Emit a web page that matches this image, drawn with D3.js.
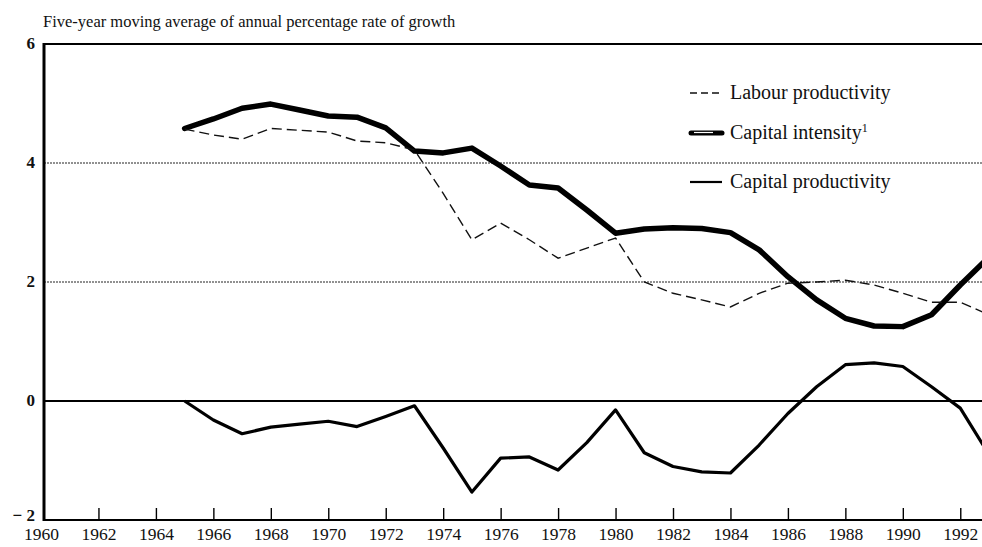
<!DOCTYPE html>
<html lang="en">
<head>
<meta charset="utf-8">
<title>Five-year moving average</title>
<script src="https://cdn.jsdelivr.net/npm/d3@7/dist/d3.min.js"></script>
<style>
  body { margin: 0; background: #fff; }
  svg text { font-family: "Liberation Serif", "DejaVu Serif", serif; fill: #111; }
</style>
</head>
<body>
<svg id="chart" width="982" height="547"></svg>
<script>
// ---- data ----
const years = [1965, 1966, 1967, 1968, 1969, 1970, 1971, 1972, 1973, 1974, 1975, 1976, 1977, 1978,
  1979, 1980, 1981, 1982, 1983, 1984, 1985, 1986, 1987, 1988, 1989, 1990, 1991, 1992, 1993];

const labourProductivity = [4.57, 4.47, 4.40, 4.58, 4.55, 4.52, 4.37, 4.34, 4.22, 3.49, 2.71, 2.99,
  2.71, 2.40, 2.57, 2.74, 2.00, 1.81, 1.70, 1.58, 1.81, 1.98, 2.00, 2.03, 1.95, 1.81, 1.66, 1.66, 1.45];

const capitalIntensity = [4.58, 4.74, 4.92, 4.99, 4.89, 4.79, 4.77, 4.59, 4.20, 4.17, 4.25, 3.95,
  3.63, 3.58, 3.21, 2.82, 2.89, 2.91, 2.90, 2.83, 2.54, 2.09, 1.70, 1.39, 1.26, 1.25, 1.45, 1.95, 2.42];

const capitalProductivity = [0.0, -0.32, -0.55, -0.44, -0.39, -0.34, -0.43, -0.26, -0.08, -0.79, -1.53,
  -0.96, -0.94, -1.16, -0.70, -0.15, -0.87, -1.10, -1.19, -1.21, -0.74, -0.21, 0.24, 0.61, 0.64, 0.58,
  0.24, -0.12, -0.90];

const xTicks = [1960, 1962, 1964, 1966, 1968, 1970, 1972, 1974, 1976, 1978, 1980, 1982, 1984, 1986, 1988, 1990, 1992];
const yTicks = [-2, 0, 2, 4, 6];
const gridValues = [2, 4];

const titleText = "Five-year moving average of annual percentage rate of growth";
const legendLabels = ["Labour productivity", "Capital intensity", "Capital productivity"];

// ---- layout ----
const svg = d3.select("#chart");
const plot = { left: 44, top: 44, right: 989, bottom: 520 };

const x = d3.scaleLinear().domain([1960, 1993]).range([41, 989]);
const y = d3.scaleLinear().domain([-2, 6]).range([plot.bottom, plot.top]);

// title
svg.append("text")
  .attr("x", 43)
  .attr("y", 27)
  .attr("font-size", 16.5)
  .text(titleText);

// dotted gridlines
svg.append("g").selectAll("line").data(gridValues)
  .join("line")
  .attr("x1", plot.left)
  .attr("x2", plot.right)
  .attr("y1", d => y(d))
  .attr("y2", d => y(d))
  .attr("stroke", "#222")
  .attr("stroke-width", 1)
  .attr("stroke-dasharray", "2,1");

// zero line
svg.append("line")
  .attr("x1", plot.left).attr("x2", plot.right)
  .attr("y1", y(0)).attr("y2", y(0))
  .attr("stroke", "#000").attr("stroke-width", 2.2);

// top border
svg.append("line")
  .attr("x1", plot.left).attr("x2", plot.right)
  .attr("y1", y(6)).attr("y2", y(6))
  .attr("stroke", "#000").attr("stroke-width", 2.2);

// bottom axis (ticks pointing up, inside the plot)
const bottomAxis = d3.axisBottom(x)
  .tickValues(xTicks)
  .tickSizeInner(-12)
  .tickSizeOuter(0)
  .tickPadding(8)
  .tickFormat(d3.format("d"));

const gx = svg.append("g")
  .attr("transform", `translate(0,${plot.bottom})`)
  .call(bottomAxis);
gx.select(".domain").attr("stroke", "#000").attr("stroke-width", 2.2)
  .attr("d", `M${plot.left},0H${plot.right}`);
gx.selectAll(".tick line").attr("stroke", "#000").attr("stroke-width", 1.4);
gx.selectAll(".tick").filter(d => d === 1960).select("line").remove();
gx.selectAll(".tick text")
  .attr("font-size", 17.5)
  .attr("font-family", "Liberation Serif, serif")
  .attr("fill", "#111");

// left axis
const leftAxis = d3.axisLeft(y)
  .tickValues(yTicks)
  .tickSize(0)
  .tickPadding(9)
  .tickFormat(d => d < 0 ? "\u2212 " + Math.abs(d) : d);

const gy = svg.append("g")
  .attr("transform", `translate(${plot.left},0)`)
  .call(leftAxis);
gy.select(".domain").attr("stroke", "#000").attr("stroke-width", 3)
  .attr("d", `M0,${plot.top - 1}V${plot.bottom + 1}`);
gy.selectAll(".tick text")
  .attr("font-size", 17)
  .attr("font-weight", "bold")
  .attr("font-family", "Liberation Serif, serif")
  .attr("fill", "#111")
  .attr("dy", d => d === -2 ? "0.05em" : "0.25em");

// ---- series ----
const line = d3.line().x((d, i) => x(years[i])).y(d => y(d));

svg.append("path")
  .datum(capitalIntensity)
  .attr("d", line)
  .attr("fill", "none")
  .attr("stroke", "#000")
  .attr("stroke-width", 5.5)
  .attr("stroke-linejoin", "round")
  .attr("stroke-linecap", "round");

svg.append("path")
  .datum(labourProductivity)
  .attr("d", line)
  .attr("fill", "none")
  .attr("stroke", "#111")
  .attr("stroke-width", 1.4)
  .attr("stroke-dasharray", "10,5");

svg.append("path")
  .datum(capitalProductivity)
  .attr("d", line)
  .attr("fill", "none")
  .attr("stroke", "#000")
  .attr("stroke-width", 3.2)
  .attr("stroke-linejoin", "round");

// ---- legend ----
const legend = svg.append("g");
const lx0 = 690, lx1 = 722, ltx = 730;
const ly = [93, 133, 182];

legend.append("line")
  .attr("x1", lx0).attr("x2", lx1).attr("y1", ly[0]).attr("y2", ly[0])
  .attr("stroke", "#111").attr("stroke-width", 1.4).attr("stroke-dasharray", "7,4");

legend.append("line")
  .attr("x1", lx0 + 1).attr("x2", lx1).attr("y1", ly[1]).attr("y2", ly[1])
  .attr("stroke", "#000").attr("stroke-width", 5).attr("stroke-linecap", "round");
legend.append("line")
  .attr("x1", lx0 + 4).attr("x2", lx1 - 9).attr("y1", ly[1] - 0.5).attr("y2", ly[1] - 0.5)
  .attr("stroke", "#fff").attr("stroke-width", 1.2);

legend.append("line")
  .attr("x1", lx0).attr("x2", lx1).attr("y1", ly[2]).attr("y2", ly[2])
  .attr("stroke", "#000").attr("stroke-width", 2.2);

legend.selectAll("text.lab").data(legendLabels)
  .join("text")
  .attr("class", "lab")
  .attr("x", ltx)
  .attr("y", (d, i) => ly[i] + 6)
  .attr("font-size", 20)
  .each(function (d, i) {
    const t = d3.select(this);
    t.append("tspan").text(d);
    if (i === 1) {
      t.append("tspan").text("1").attr("font-size", 12).attr("dy", -7);
    }
  });
</script>
</body>
</html>
